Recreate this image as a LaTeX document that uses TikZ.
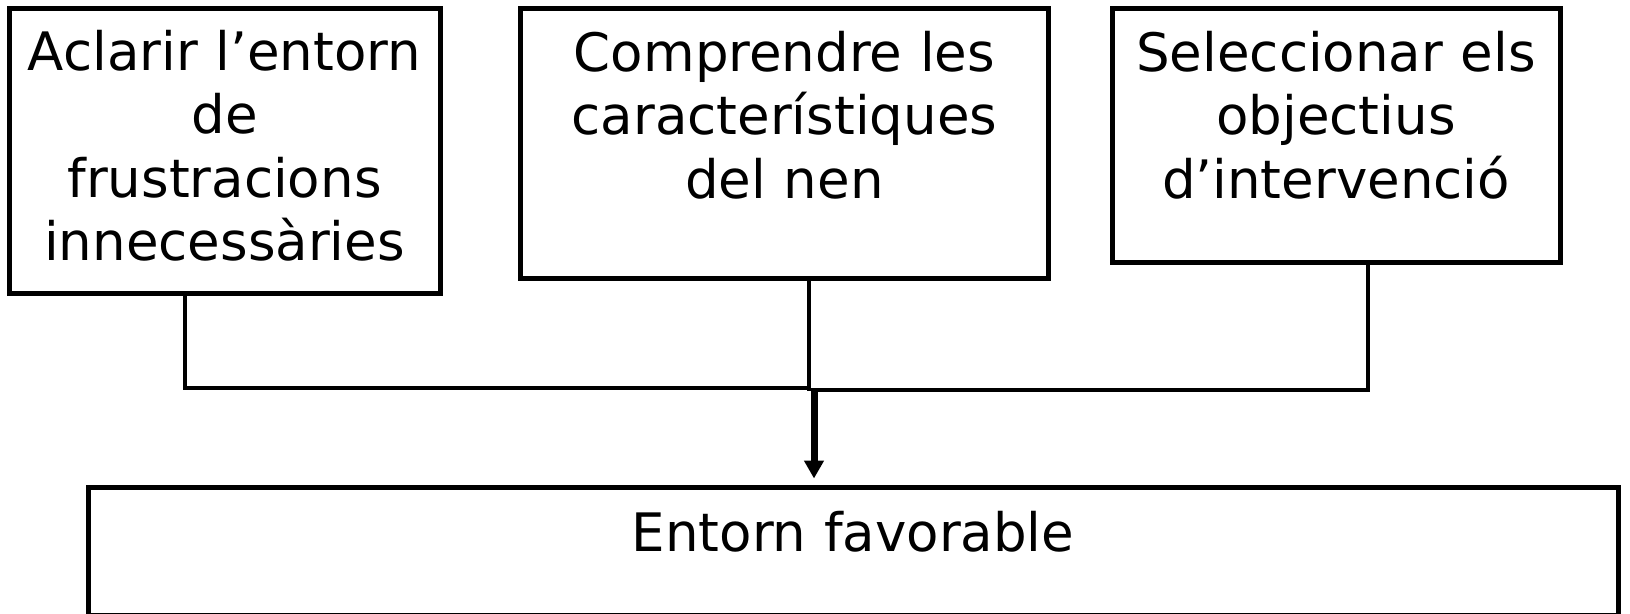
\documentclass[tikz,border=0pt]{standalone}
\usepackage{fontspec}
\setmainfont{DejaVu Sans}
\usetikzlibrary{arrows.meta}
\begin{document}
\begin{tikzpicture}[x=1pt,y=-1pt,
  box/.style={draw=black,line width=5pt,inner sep=0pt,fill=white},
  lbl/.style={anchor=base,inner sep=0pt,align=center,text width=#1,
    font=\fontsize{53}{63.5}\selectfont},
  conn/.style={draw=black,line width=4.5pt},
  arr/.style={draw=black,line width=7pt,-{Triangle[width=19pt,length=18pt]}}]
\useasboundingbox (0,0) rectangle (1630,613);
\node[box,minimum width=431pt,minimum height=285pt] (b1) at (224.5,150.5) {};
\node[box,minimum width=528pt,minimum height=270pt] (b2) at (784.5,143) {};
\node[box,minimum width=448pt,minimum height=254pt] (b3) at (1336,135) {};
\node[box,minimum width=1530pt,minimum height=128pt] (b4) at (853,551) {};
\node[lbl=430pt] (t1) at (224.5,70) {Aclarir l’entorn\\de\\frustracions\\innecessàries};
\node[lbl=520pt] (t2) at (784.5,71) {Comprendre les\\característiques\\del nen};
\node[lbl=440pt] (t3) at (1336,71) {Seleccionar els\\objectius\\d’intervenció};
\node[lbl=1500pt] (t4) at (853,551) {Entorn favorable};
\coordinate (jl) at (811,388);
\coordinate (jr) at (811,390);
\coordinate (ja) at (814,388);
\draw[conn] ([xshift=-39.5pt]b1.south) |- (jl);
\draw[conn] ([xshift=24.5pt]b2.south) -- ([xshift=24.5pt,yshift=-110pt]b2.south);
\draw[conn] ([xshift=32pt]b3.south) |- (jr);
\draw[arr] (ja) -- ([xshift=-39pt,yshift=6pt]b4.north);
\end{tikzpicture}
\end{document}
